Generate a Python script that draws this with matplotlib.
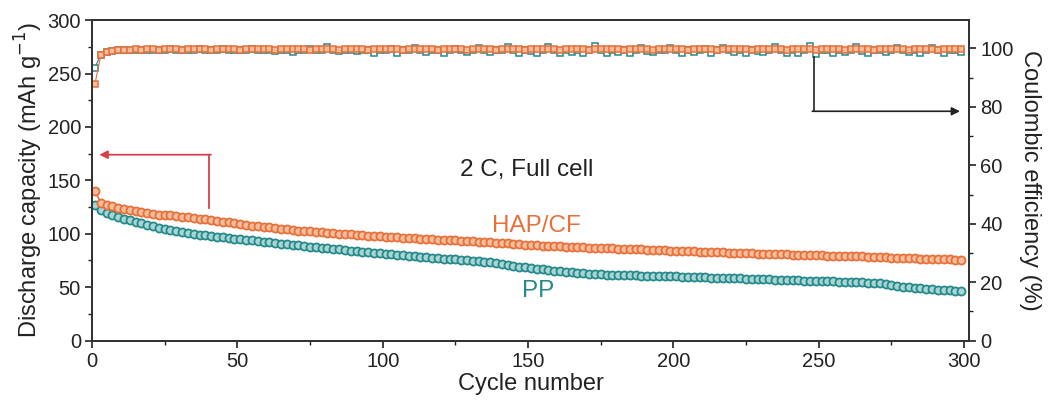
import matplotlib.pyplot as plt
import numpy as np

plt.rcParams['font.family'] = ['Liberation Sans', 'DejaVu Sans']

orange = '#E8703A'
teal = '#26898B'

# odd cycles 1, 3, ..., 299
cycles = np.arange(1, 301, 2)

hap_cap = [140.0, 129.2, 127.1, 125.6, 124.0, 122.9, 121.8, 120.9, 120.1, 119.2,
           118.4, 118.0, 117.5, 117.1, 116.6, 116.0, 115.4, 114.7, 114.1, 113.5,
           112.8, 112.2, 111.4, 110.6, 109.8, 109.0, 108.3, 107.7, 107.0, 106.4,
           105.9, 105.3, 104.6, 104.1, 103.6, 103.0, 102.5, 102.1, 101.6, 101.2,
           100.8, 100.4, 100.0, 99.7, 99.3, 98.9, 98.6, 98.3, 97.9, 97.6,
           97.3, 97.0, 96.7, 96.4, 96.0, 95.7, 95.4, 95.1, 94.8, 94.5,
           94.2, 94.0, 93.7, 93.4, 93.1, 92.8, 92.5, 92.2, 91.9, 91.6,
           91.3, 91.0, 90.6, 90.2, 89.8, 89.5, 89.2, 88.9, 88.6, 88.3,
           88.1, 87.9, 87.7, 87.5, 87.3, 87.1, 86.9, 86.7, 86.5, 86.3,
           86.1, 85.9, 85.7, 85.5, 85.3, 85.1, 84.9, 84.7, 84.5, 84.3,
           84.1, 83.9, 83.7, 83.5, 83.3, 83.1, 82.9, 82.7, 82.5, 82.3,
           82.1, 81.9, 81.8, 81.6, 81.4, 81.3, 81.1, 81.0, 80.8, 80.7,
           80.5, 80.4, 80.2, 80.1, 79.9, 79.8, 79.6, 79.5, 79.3, 79.2,
           79.0, 78.9, 78.7, 78.5, 78.3, 78.1, 77.9, 77.7, 77.5, 77.3,
           77.1, 76.9, 76.7, 76.6, 76.4, 76.2, 76.1, 75.9, 75.7, 75.6]

pp_cap = [127.0, 122.5, 119.8, 117.6, 115.8, 114.0, 112.4, 111.0, 109.6, 108.3,
          107.0, 105.8, 104.7, 103.6, 102.6, 101.7, 100.8, 99.9, 99.1, 98.4,
          97.7, 97.1, 96.5, 96.0, 95.4, 94.8, 94.2, 93.7, 93.1, 92.5,
          91.9, 91.3, 90.7, 90.1, 89.5, 89.0, 88.4, 87.8, 87.3, 86.8,
          86.3, 85.8, 85.3, 84.8, 84.3, 83.8, 83.3, 82.8, 82.3, 81.9,
          81.4, 81.0, 80.5, 80.0, 79.5, 79.1, 78.6, 78.1, 77.6, 77.1,
          76.7, 76.3, 75.9, 75.5, 75.1, 74.7, 74.3, 73.9, 73.4, 72.8,
          71.6, 70.5, 69.5, 68.9, 68.5, 68.0, 67.4, 66.6, 65.8, 65.2,
          64.8, 64.5, 64.1, 63.6, 63.1, 62.6, 62.3, 62.0, 61.8, 61.6,
          61.4, 61.3, 61.1, 61.0, 60.8, 60.7, 60.6, 60.4, 60.3, 60.2,
          60.1, 59.9, 59.8, 59.6, 59.4, 59.2, 59.0, 58.8, 58.6, 58.4,
          58.3, 58.1, 58.0, 57.8, 57.6, 57.5, 57.3, 57.1, 56.9, 56.8,
          56.6, 56.4, 56.2, 56.0, 55.9, 55.7, 55.5, 55.3, 55.1, 55.0,
          54.8, 54.6, 54.4, 54.2, 54.0, 53.6, 52.8, 51.8, 51.0, 50.4,
          49.9, 49.5, 49.1, 48.6, 48.1, 47.7, 47.3, 46.9, 46.5, 46.1]

hap_ce = [87.8, 97.6, 98.9, 99.3, 99.5, 99.6, 99.6, 99.7, 99.6, 99.7,
          99.7, 99.6, 99.7, 99.8, 99.7, 99.6, 99.7, 99.7, 99.8, 99.7,
          99.6, 99.7, 99.8, 99.7, 99.7, 99.6, 99.8, 99.7, 99.7, 99.8,
          99.7, 99.6, 99.7, 99.8, 99.7, 99.7, 99.8, 99.6, 99.7, 99.7,
          99.8, 99.7, 99.6, 99.7, 99.8, 99.7, 99.7, 99.6, 99.8, 99.7,
          99.7, 99.8, 99.7, 99.6, 99.7, 99.7, 99.8, 99.7, 99.7, 99.6,
          99.8, 99.7, 99.7, 99.8, 99.6, 99.7, 99.7, 99.8, 99.7, 99.6,
          99.7, 99.8, 99.7, 99.7, 99.6, 99.8, 99.7, 99.7, 99.8, 99.7,
          99.6, 99.7, 99.8, 99.7, 99.7, 99.6, 99.8, 99.7, 99.7, 99.8,
          99.7, 99.6, 99.7, 99.8, 99.7, 99.7, 99.6, 99.8, 99.7, 99.7,
          99.8, 99.7, 99.6, 99.7, 99.8, 99.7, 99.7, 99.6, 99.8, 99.7,
          99.7, 99.8, 99.7, 99.6, 99.7, 99.7, 99.8, 99.7, 99.7, 99.6,
          99.8, 99.7, 99.7, 99.8, 99.6, 99.7, 99.7, 99.8, 99.7, 99.6,
          99.7, 99.8, 99.7, 99.7, 99.6, 99.8, 99.7, 99.7, 99.8, 99.7,
          99.6, 99.7, 99.8, 99.7, 99.7, 99.6, 99.8, 99.7, 99.7, 99.8]

pp_ce = [93.4, 97.9, 98.8, 99.2, 99.4, 99.5, 99.5, 99.6, 99.5, 99.6,
         99.6, 99.5, 99.6, 99.7, 99.6, 99.5, 99.6, 99.6, 99.7, 99.6,
         99.5, 99.6, 99.7, 99.6, 99.4, 99.5, 99.6, 99.7, 99.5, 99.6,
         99.6, 99.3, 99.6, 99.5, 98.9, 99.6, 99.5, 99.7, 99.4, 99.6,
         100.4, 99.5, 99.2, 99.6, 99.5, 99.0, 99.6, 99.5, 98.6, 99.5,
         99.6, 99.7, 98.5, 99.4, 99.6, 100.3, 99.5, 98.7, 99.5, 99.6,
         98.6, 99.5, 99.8, 99.4, 98.8, 99.6, 100.2, 99.5, 98.9, 99.6,
         99.4, 100.6, 99.5, 98.4, 99.6, 99.3, 98.6, 99.5, 100.4, 99.6,
         98.5, 99.4, 98.8, 99.6, 98.3, 99.5, 100.7, 99.4, 98.6, 99.5,
         98.9, 99.6, 98.4, 99.5, 100.2, 99.3, 98.7, 99.6, 99.5, 100.3,
         99.4, 98.6, 99.6, 98.9, 99.5, 99.7, 98.5, 99.4, 100.1, 99.5,
         98.7, 99.6, 98.4, 99.5, 99.3, 98.8, 99.6, 100.5, 99.4, 98.6,
         99.5, 98.5, 99.4, 100.8, 98.2, 99.5, 99.4, 98.6, 99.6, 98.9,
         99.5, 100.4, 99.3, 98.5, 99.6, 99.4, 98.7, 99.5, 100.2, 99.4,
         98.8, 99.5, 98.4, 99.6, 100.3, 99.4, 98.6, 99.5, 99.4, 98.7]

fig = plt.figure(figsize=(10.48, 4.03), dpi=100)
ax = fig.add_axes([0.0878, 0.155, 0.8368, 0.795])
ax2 = ax.twinx()

# capacity bands
ax.plot(cycles, pp_cap, '-o', color=teal, lw=1.2, ms=5.8, mfc='#a9d6d5', mew=1.3)
ax.plot(cycles, hap_cap, '-o', color=orange, lw=1.2, ms=5.8, mfc='#f4bd9c', mew=1.3)

# coulombic efficiency
ax2.plot(cycles, pp_ce, '-s', color=teal, lw=0.8, ms=4.5, mfc='white', mew=1.1)
ax2.plot(cycles, hap_ce, '-s', color=orange, lw=0.8, ms=4.5, mfc='#f4bd9c', mew=1.1)

ax.set_xlim(0, 301.7)
ax.set_ylim(0, 300)
ax2.set_ylim(0, 109.7)

ax.set_xticks([0, 50, 100, 150, 200, 250, 300])
ax.set_xticks([25, 75, 125, 175, 225, 275], minor=True)
ax.set_yticks([0, 50, 100, 150, 200, 250, 300])
ax.set_yticks([25, 75, 125, 175, 225, 275], minor=True)
ax2.set_yticks([0, 20, 40, 60, 80, 100])
ax2.set_yticks([10, 30, 50, 70, 90], minor=True)

for a in (ax, ax2):
    a.tick_params(which='major', direction='out', length=5, width=1.2,
                  labelsize=14.5, colors='#222222', pad=3)
    a.tick_params(which='minor', direction='out', length=3, width=1.0, colors='#222222')
    for s in a.spines.values():
        s.set_linewidth(1.4)
        s.set_color('#333333')

ax.set_xlabel('Cycle number', fontsize=17, labelpad=2, color='#222222')
ax.set_ylabel('Discharge capacity (mAh g$^{-1}$)', fontsize=17, labelpad=2, color='#222222')
ax2.set_ylabel('Coulombic efficiency (%)', fontsize=17, rotation=270, labelpad=20,
               color='#222222')

ax.text(149.6, 160, '2 C, Full cell', fontsize=17.5, ha='center', va='center', color='#222222')
ax.text(153, 107.5, 'HAP/CF', fontsize=17.5, ha='center', va='center', color=orange)
ax.text(153.5, 46, 'PP', fontsize=17.5, ha='center', va='center', color=teal)

# arrows pointing to the axes
ax.plot([40.2, 40.2], [124, 174], color='#D8404E', lw=1.3)
ax.annotate('', xy=(2.5, 174), xytext=(40.9, 174),
            arrowprops=dict(arrowstyle='-|>', color='#D8404E', lw=1.3,
                            shrinkA=0, shrinkB=0, mutation_scale=12))
ax2.plot([248.4, 248.4], [97, 78.5], color='#222222', lw=1.2)
ax2.annotate('', xy=(298.6, 78.5), xytext=(247.8, 78.5),
             arrowprops=dict(arrowstyle='-|>', color='#222222', lw=1.2,
                             shrinkA=0, shrinkB=0, mutation_scale=12))

fig.savefig('out.png', dpi=100)
